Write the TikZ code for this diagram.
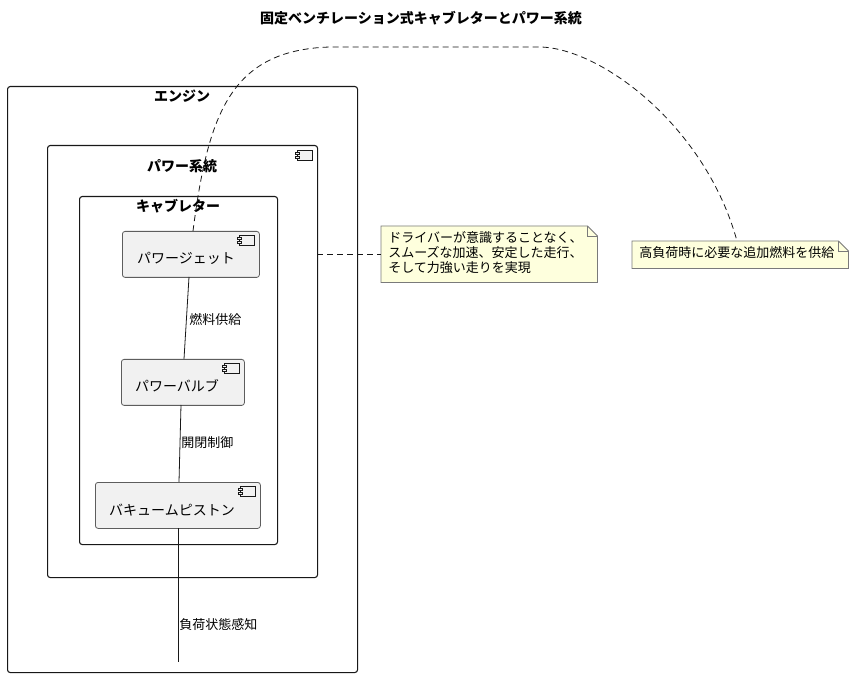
\documentclass[tikz,border=0pt]{standalone}
\usepackage{fontspec}
\setmainfont{Noto Sans CJK JP}
\definecolor{boxline}{HTML}{181818}
\definecolor{compfill}{HTML}{F1F1F1}
\definecolor{notefill}{HTML}{FEFFDD}
\definecolor{noteline}{HTML}{7A7A7A}
\tikzset{
  x=0.75pt, y=-0.75pt,
  container/.style={draw=boxline, line width=0.8pt, rounded corners=2pt, anchor=north west, inner sep=0pt},
  comp/.style={draw=boxline!70, fill=compfill, line width=0.6pt, rounded corners=2pt, anchor=north west, inner sep=0pt},
  ttl/.style={font=\fontsize{10.5}{12}\selectfont\bfseries, inner sep=0pt},
  ctext/.style={font=\fontsize{10.5}{12}\selectfont, inner sep=0pt},
  lbl/.style={font=\fontsize{9.75}{11}\selectfont, inner sep=0pt, anchor=west},
  notebox/.style={draw=none, anchor=north west, inner sep=0pt},
  ntext/.style={font=\fontsize{9.75}{11.25}\selectfont, inner sep=0pt, anchor=north west, align=left},
  conn/.style={draw=boxline, line width=0.6pt},
  dconn/.style={draw=boxline, line width=0.6pt, dash pattern=on 4.5pt off 3pt},
  compicon/.pic={
    \draw[boxline, line width=0.5pt, fill=compfill] (0,0) rectangle (15,10);
    \draw[boxline, line width=0.5pt, fill=compfill] (-2,2) rectangle (2,4);
    \draw[boxline, line width=0.5pt, fill=compfill] (-2,6) rectangle (2,8);
  }
}
\begin{document}
\begin{tikzpicture}
\useasboundingbox[fill=white] (0,0) rectangle (854,677);

% title
\node[ttl] (title) at (421,18) {固定ベンチレーション式キャブレターとパワー系統};

% containers
\node[container, minimum width=262.5pt, minimum height=439.5pt] (engine) at (7,86) {};
\node[ttl] (engineT) at (182,96) {エンジン};
\node[container, minimum width=202.5pt, minimum height=324pt] (psys) at (47,145) {};
\node[ttl] (psysT) at (182,166) {パワー系統};
\pic at (297,150) {compicon};
\node[container, minimum width=148.5pt, minimum height=261pt] (carb) at (79,196) {};
\node[ttl] (carbT) at (178,206) {キャブレター};

% components
\node[comp, minimum width=102.75pt, minimum height=34.5pt] (pj) at (122,231) {};
\node[ctext] (pjT) at (186,258) {パワージェット};
\pic at (239,235) {compicon};
\node[comp, minimum width=92.25pt, minimum height=34.5pt] (pv) at (121,359) {};
\node[ctext] (pvT) at (177,386) {パワーバルブ};
\pic at (224,363) {compicon};
\node[comp, minimum width=123.75pt, minimum height=34.5pt] (vp) at (95,482) {};
\node[ctext] (vpT) at (172,510) {バキュームピストン};
\pic at (240,486) {compicon};

% connectors
\coordinate (pjS) at (189,277);
\coordinate (pvN) at (184,359);
\coordinate (pvS) at (181,405);
\coordinate (vpN) at (179,482);
\coordinate (vpS) at (178,528);
\coordinate (freeEnd) at (178,662);
\draw[conn] (pjS) -- (pvN);
\node[lbl] (l1) at (189,320) {燃料供給};
\draw[conn] (pvS) -- (vpN);
\node[lbl] (l2) at (181,443) {開閉制御};
\draw[conn] (vpS) -- (freeEnd);
\node[lbl] (l3) at (179,625) {負荷状態感知};

% notes
\node[notebox, minimum width=162pt, minimum height=42pt] (n1) at (381,226) {};
\fill[notefill] (n1.north west) -- ([xshift=-7.5pt]n1.north east) -- ([yshift=-7.5pt]n1.north east) -- (n1.south east) -- (n1.south west) -- cycle;
\draw[noteline, line width=0.6pt] (n1.north west) -- ([xshift=-7.5pt]n1.north east) -- ([yshift=-7.5pt]n1.north east) -- (n1.south east) -- (n1.south west) -- cycle;
\draw[noteline, line width=0.6pt] ([xshift=-7.5pt]n1.north east) -- ([xshift=-7.5pt,yshift=-7.5pt]n1.north east) -- ([yshift=-7.5pt]n1.north east);
\node[ntext] (n1T) at (388,231) {ドライバーが意識することなく、\\スムーズな加速、安定した走行、\\そして力強い走りを実現};

\node[notebox, minimum width=162pt, minimum height=20.25pt] (n2) at (632,241) {};
\fill[notefill] (n2.north west) -- ([xshift=-7.5pt]n2.north east) -- ([yshift=-7.5pt]n2.north east) -- (n2.south east) -- (n2.south west) -- cycle;
\draw[noteline, line width=0.6pt] (n2.north west) -- ([xshift=-7.5pt]n2.north east) -- ([yshift=-7.5pt]n2.north east) -- (n2.south east) -- (n2.south west) -- cycle;
\draw[noteline, line width=0.6pt] ([xshift=-7.5pt]n2.north east) -- ([xshift=-7.5pt,yshift=-7.5pt]n2.north east) -- ([yshift=-7.5pt]n2.north east);
\node[ntext] (n2T) at (639,246) {高負荷時に必要な追加燃料を供給};

% note connectors
\coordinate (psysE) at (317,254);
\coordinate (n1W) at (381,254);
\draw[dconn] (psysE) -- (n1W);
\coordinate (pjN) at (193,231);
\coordinate (n2N) at (737,241);
\draw[dconn] (pjN) .. controls (208,115) and (230,50) .. (330,47)
  -- (540,47) .. controls (600,48) and (705,125) .. (n2N);
\end{tikzpicture}
\end{document}
